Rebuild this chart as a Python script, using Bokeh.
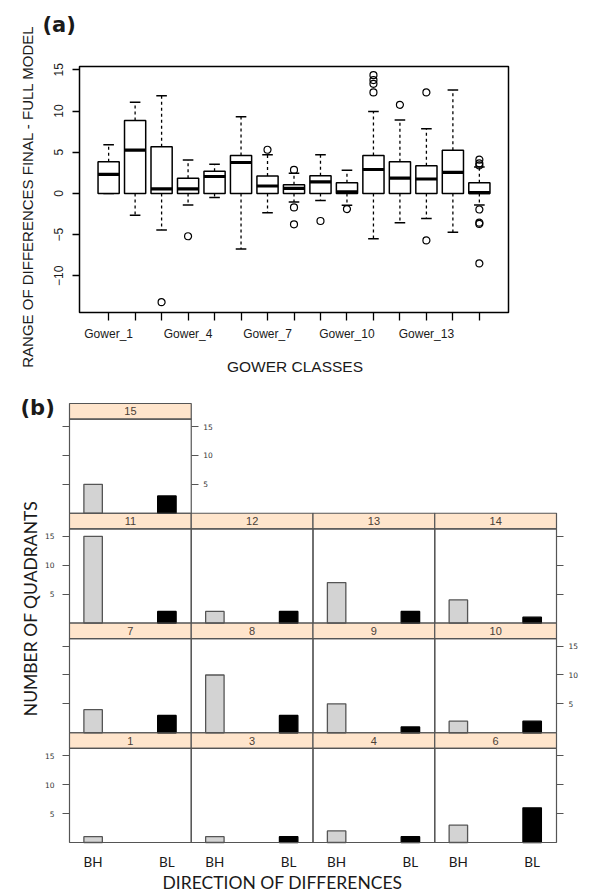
import math
from bokeh.plotting import figure
from bokeh.models import Range1d, FixedTicker, LinearAxis, Label, ColumnDataSource
from bokeh.layouts import column
from bokeh.transform import dodge
from bokeh.embed import file_html
from bokeh.resources import INLINE

# ---------------- data: panel (a) boxplot ----------------
gower_classes = [f"Gower_{i}" for i in range(1, 16)]
gower_tick_labels = ["Gower_1", "Gower_4", "Gower_7", "Gower_10", "Gower_13"]
box_q1 = [0, 0, 0, 0, 0, 0, 0, 0, 0, 0, 0, 0, 0, 0, 0]
box_median = [2.3, 5.25, 0.55, 0.55, 2.05, 3.75, 0.9, 0.6, 1.4, 0.2, 2.9, 1.85, 1.75, 2.55, 0.1]
box_q3 = [3.85, 8.85, 5.65, 1.85, 2.7, 4.6, 2.1, 1.05, 2.15, 1.3, 4.6, 3.85, 3.35, 5.25, 1.3]
whisker_low = [0, -2.65, -4.45, -1.4, -0.5, -6.75, -2.35, -1.05, -0.85, -1.45, -5.5, -3.55, -3.05, -4.7, -1.4]
whisker_high = [5.9, 11.05, 11.85, 4.05, 3.55, 9.3, 4.7, 2.45, 4.7, 2.8, 9.95, 8.9, 7.85, 12.55, 3.2]
outliers = {
    "Gower_3": [-13.2],
    "Gower_4": [-5.2],
    "Gower_7": [5.3],
    "Gower_8": [2.85, -1.7, -3.75],
    "Gower_9": [-3.35],
    "Gower_10": [-1.9],
    "Gower_11": [14.35, 13.75, 13.3, 12.25],
    "Gower_12": [10.75],
    "Gower_13": [12.25, -5.7],
    "Gower_15": [4.1, 3.65, 3.4, -1.95, -3.55, -3.7, -8.5],
}
y_ticks_a = [-10, -5, 0, 5, 10, 15]

# ---------------- data: panel (b) lattice barchart ----------------
strip_levels = ["1", "3", "4", "6", "7", "8", "9", "10", "11", "12", "13", "14", "15"]
directions = ["BH", "BL"]
count_bh = [1, 1, 2, 3, 4, 10, 5, 2, 15, 2, 7, 4, 5]
count_bl = [0, 1, 1, 6, 3, 3, 1, 2, 2, 2, 2, 1, 3]
y_ticks_b = [5, 10, 15]

TXT = "#1a1a1a"
W = 589

# ================= figure (a) =================
# R plot region (box) limits and its pixel margins inside the canvas
XA_LO, XA_HI = -0.1, len(gower_classes) + 1.1
YA_LO, YA_HI = -14.45, 15.4
H_A = 392
A_L, A_R, A_T, A_B = 79, W - 508, 66, 80
kxa = (W - A_L - A_R) / (XA_HI - XA_LO)
kya = (H_A - A_T - A_B) / (YA_HI - YA_LO)

pa = figure(width=W, height=H_A, output_backend="svg", toolbar_location=None,
            x_range=Range1d(XA_LO - A_L / kxa, XA_HI + A_R / kxa),
            y_range=Range1d(YA_LO - A_B / kya, YA_HI + A_T / kya))
pa.min_border = 0
pa.grid.visible = False
pa.outline_line_color = None

xs = list(range(1, len(gower_classes) + 1))
src = ColumnDataSource(dict(x=xs, q1=box_q1, q3=box_q3, med=box_median,
                            lo=whisker_low, hi=whisker_high))
pa.segment(x0="x", y0="q3", x1="x", y1="hi", source=src, line_color="black",
           line_width=1.3, line_dash="3 3")
pa.segment(x0="x", y0="q1", x1="x", y1="lo", source=src, line_color="black",
           line_width=1.3, line_dash="3 3")
pa.segment(x0=dodge("x", -0.2), y0="hi", x1=dodge("x", 0.2), y1="hi", source=src,
           line_color="black", line_width=1.5)
pa.segment(x0=dodge("x", -0.2), y0="lo", x1=dodge("x", 0.2), y1="lo", source=src,
           line_color="black", line_width=1.5)
pa.vbar(x="x", width=0.8, bottom="q1", top="q3", source=src, fill_color="white",
        line_color="black", line_width=1.5)
pa.segment(x0=dodge("x", -0.4), y0="med", x1=dodge("x", 0.4), y1="med", source=src,
           line_color="black", line_width=3.2)

ox, oy = [], []
for name, vals in outliers.items():
    for v in vals:
        ox.append(gower_classes.index(name) + 1)
        oy.append(v)
pa.scatter(x=ox, y=oy, marker="circle", size=7, fill_color=None,
           line_color="black", line_width=1.2)

# box around the plot region
pa.quad(left=[XA_LO], right=[XA_HI], bottom=[YA_LO], top=[YA_HI], fill_color=None,
        line_color="black", line_width=1.5)

xa = pa.xaxis[0]
xa.fixed_location = YA_LO
xa.ticker = FixedTicker(ticks=xs)
xa.major_label_overrides = {i + 1: (c if c in gower_tick_labels else "")
                            for i, c in enumerate(gower_classes)}
xa.axis_line_color = None
xa.major_tick_out = 8
xa.major_tick_in = 0
xa.major_tick_line_width = 1.3
xa.minor_tick_line_color = None
xa.major_label_standoff = 6
xa.major_label_text_font = "Liberation Sans"
xa.major_label_text_font_size = "12px"
xa.major_label_text_color = TXT
xa.axis_label = "GOWER CLASSES"
xa.axis_label_text_font = "Liberation Sans"
xa.axis_label_text_font_size = "15.5px"
xa.axis_label_text_font_style = "normal"
xa.axis_label_text_color = TXT
xa.axis_label_standoff = 14

ya = pa.yaxis[0]
ya.fixed_location = XA_LO
ya.ticker = FixedTicker(ticks=y_ticks_a)
ya.axis_line_color = None
ya.major_tick_out = 7
ya.major_tick_in = 0
ya.major_tick_line_width = 1.3
ya.minor_tick_line_color = None
ya.major_label_orientation = "vertical"
ya.major_label_standoff = 9
ya.major_label_text_font = "Liberation Sans"
ya.major_label_text_font_size = "12px"
ya.major_label_text_color = TXT
ya.axis_label = "RANGE OF DIFFERENCES FINAL - FULL MODEL"
ya.axis_label_text_font = "Liberation Sans"
ya.axis_label_text_font_size = "15px"
ya.axis_label_text_font_style = "normal"
ya.axis_label_text_color = TXT
ya.axis_label_standoff = 16

pa.add_layout(Label(x=42, y=H_A - 12, x_units="screen", y_units="screen", text="(a)",
                    text_font="DejaVu Sans", text_font_size="21px",
                    text_font_style="bold", text_color=TXT, text_baseline="top"))

# ================= figure (b) =================
XLO, XHI = 0.68, 2.33          # x limits of one lattice panel
SPAN = XHI - XLO
YTOP = 16.3                    # y limit of one panel body
STRIP = 2.7                    # strip height in y units
ROW = YTOP + STRIP
NCOL = 4
nrow = math.ceil(len(strip_levels) / NCOL)

H_B = 502
GRID_L, GRID_R, GRID_T = 69, W - 556, 11
GRID_B = H_B - GRID_T - 439
kx = (W - GRID_L - GRID_R) / (NCOL * SPAN)
ky = (H_B - GRID_T - GRID_B) / (nrow * ROW)

pb = figure(width=W, height=H_B, output_backend="svg", toolbar_location=None,
            x_range=Range1d(-GRID_L / kx, NCOL * SPAN + GRID_R / kx),
            y_range=Range1d(-GRID_B / ky, nrow * ROW + GRID_T / ky))
pb.min_border = 0
pb.grid.visible = False
pb.outline_line_color = None

cols = [i % NCOL for i in range(len(strip_levels))]
rows = [i // NCOL for i in range(len(strip_levels))]
panel_src = ColumnDataSource(dict(
    left=[c * SPAN for c in cols], right=[(c + 1) * SPAN for c in cols],
    body_bottom=[r * ROW for r in rows], body_top=[r * ROW + YTOP for r in rows],
    strip_top=[(r + 1) * ROW for r in rows],
    cx=[(c + 0.5) * SPAN for c in cols], cy=[r * ROW + YTOP + STRIP / 2 for r in rows],
    level=strip_levels))
pb.quad(left="left", right="right", bottom="body_top", top="strip_top", source=panel_src,
        fill_color="#FFE5CC", line_color="#555555", line_width=1.2)
pb.text(x="cx", y="cy", text="level", source=panel_src, text_align="center",
        text_baseline="middle", text_font_size="11px", text_color="#4a4036",
        text_font={"value": "Liberation Sans"})

for k, (name, counts, fill, lc) in enumerate([("BH", count_bh, "#D3D3D3", "#555555"),
                                                ("BL", count_bl, "black", "black")]):
    bx, bb, bt = [], [], []
    for i, v in enumerate(counts):
        if v > 0:
            bx.append(cols[i] * SPAN + (k + 1 - XLO))
            bb.append(rows[i] * ROW)
            bt.append(rows[i] * ROW + v)
    pb.vbar(x=bx, width=0.25, bottom=bb, top=bt, fill_color=fill, line_color=lc,
            line_width=1.3)

pb.quad(left="left", right="right", bottom="body_bottom", top="body_top", source=panel_src,
        fill_color=None, line_color="#555555", line_width=1.2)

# bottom axis: BH / BL under each column
xb = pb.xaxis[0]
xb.fixed_location = 0
xt, xo = [], {}
for c in range(NCOL):
    for k, d in enumerate(directions):
        t = c * SPAN + (k + 1 - XLO)
        xt.append(t)
        xo[t] = d
xb.ticker = FixedTicker(ticks=xt)
xb.major_label_overrides = xo
xb.axis_line_color = None
xb.major_tick_out = 0
xb.major_tick_in = 0
xb.major_tick_line_color = None
xb.minor_tick_line_color = None
xb.major_label_standoff = 11
xb.major_label_text_font = "Lato"
xb.major_label_text_font_size = "13.5px"
xb.major_label_text_color = TXT


def style_yb(ax, standoff):
    ax.axis_line_color = None
    ax.major_tick_out = 7
    ax.major_tick_in = 0
    ax.major_tick_line_color = "#555555"
    ax.major_tick_line_width = 1.2
    ax.minor_tick_line_color = None
    ax.major_label_standoff = standoff
    ax.major_label_text_font = "DejaVu Sans"
    ax.major_label_text_font_size = "7.5px"
    ax.major_label_text_color = "#333333"


# left axis: labels on rows 0 and 2 (lattice alternation)
yl = pb.yaxis[0]
yl.fixed_location = 0
lt, lo_ = [], {}
for r in range(nrow):
    for v in y_ticks_b:
        t = r * ROW + v
        lt.append(t)
        lo_[t] = str(v) if r % 2 == 0 else ""
yl.ticker = FixedTicker(ticks=lt)
yl.major_label_overrides = lo_
style_yb(yl, 8)

# right axis for full rows
full_rows = [r for r in range(nrow) if rows.count(r) == NCOL]
rt, ro = [], {}
for r in full_rows:
    for v in y_ticks_b:
        t = r * ROW + v
        rt.append(t)
        ro[t] = str(v) if r % 2 == 1 else ""
yr = LinearAxis(ticker=FixedTicker(ticks=rt), major_label_overrides=ro,
                fixed_location=NCOL * SPAN)
style_yb(yr, 5)
pb.add_layout(yr, "right")

# right axis of the incomplete top row, at its last panel's right edge
top_row = nrow - 1
n_top = rows.count(top_row)
tt, to = [], {}
for v in y_ticks_b:
    t = top_row * ROW + v
    tt.append(t)
    to[t] = str(v) if top_row % 2 == 1 else ""
yt = LinearAxis(ticker=FixedTicker(ticks=tt), major_label_overrides=to,
                fixed_location=n_top * SPAN)
style_yb(yt, 5)
pb.add_layout(yt, "right")

# texts (screen units measured from the plot's bottom-left corner)
pb.add_layout(Label(x=20, y=H_B - 3, x_units="screen", y_units="screen", text="(b)",
                    text_font="DejaVu Sans", text_font_size="21px",
                    text_font_style="bold", text_color=TXT, text_baseline="top"))
pb.add_layout(Label(x=30, y=H_B - 216, x_units="screen", y_units="screen",
                    text="NUMBER OF QUADRANTS", angle=math.pi / 2,
                    text_font="Lato", text_font_size="17.5px", text_color=TXT,
                    text_align="center", text_baseline="middle"))
pb.add_layout(Label(x=162, y=2, x_units="screen", y_units="screen",
                    text="DIRECTION OF DIFFERENCES",
                    text_font="Lato", text_font_size="17.5px", text_color=TXT,
                    text_align="left", text_baseline="bottom"))

layout = column(pa, pb, spacing=0)
open("out.html", "w").write(file_html(layout, INLINE))
